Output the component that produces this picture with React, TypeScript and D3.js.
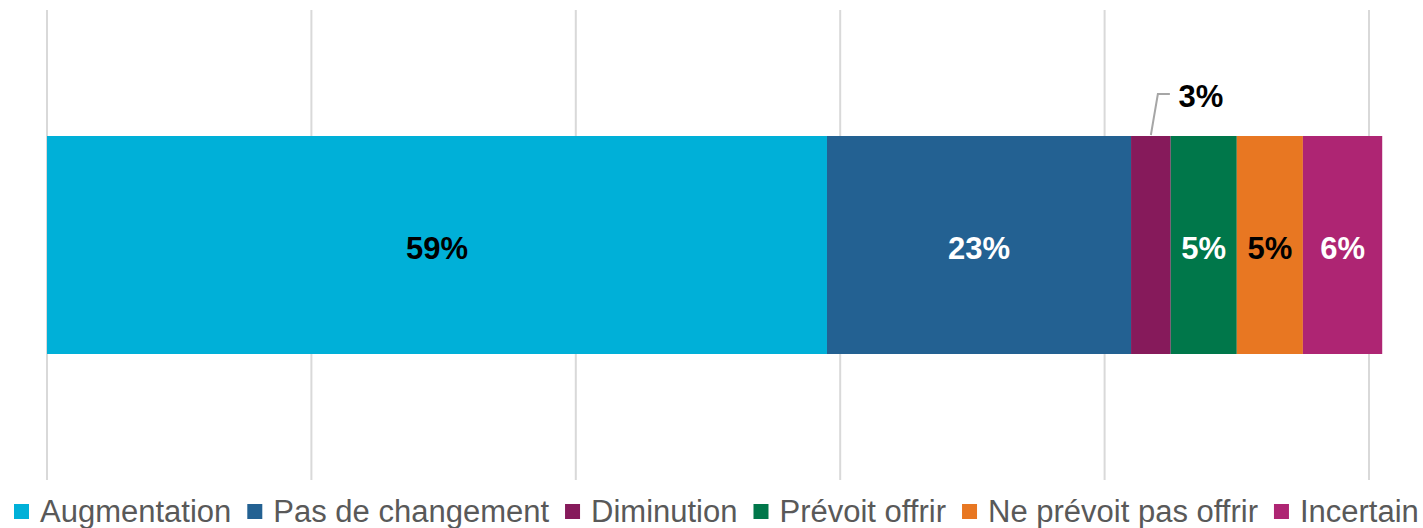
import React from "react";
import * as d3 from "d3";

const categories = ["Augmentation", "Pas de changement", "Diminution", "Prévoit offrir", "Ne prévoit pas offrir", "Incertain"];
const values = [59, 23, 3, 5, 5, 6];
const colors = ["#00B0D8", "#236192", "#861A5B", "#00774A", "#E87722", "#AE2573"];
const labelColors = ["#000000", "#ffffff", "#000000", "#ffffff", "#000000", "#ffffff"];
const ticks = [0, 20, 40, 60, 80, 100];

export default function App() {
  const W = 1423, H = 528;
  const x = d3.scaleLinear().domain([0, 100]).range([47, 1369]);
  const y0 = 136, y1 = 354;
  let cum = 0;
  const segs = values.map((v, i) => {
    const s = { start: cum, end: cum + v, v, i };
    cum += v;
    return s;
  });
  const legendFont = 31;
  const font = '"Liberation Sans", Arial, sans-serif';
  const ctx = document.createElement("canvas").getContext("2d")!;
  ctx.font = `${legendFont}px ${font}`;
  const sq = 15, gapSq = 11, gapItem = 16;
  const widths = categories.map((c) => sq + gapSq + ctx.measureText(c).width);
  const total = widths.reduce((a, b) => a + b, 0) + gapItem * (categories.length - 1);
  let lx = Math.max(14, (W - total) / 2 + 3);
  const legendItems = categories.map((c, i) => {
    const item = { c, i, x: lx };
    lx += widths[i] + gapItem;
    return item;
  });
  const labelFont = 31;
  return (
    <svg width={W} height={H} style={{ position: "absolute", left: 0, top: 0, fontFamily: font }}>
      {ticks.map((t) => (
        <line key={t} x1={x(t)} x2={x(t)} y1={10} y2={480} stroke="#D9D9D9" strokeWidth={2} />
      ))}
      {segs.map((s) => (
        <rect key={s.i} x={x(s.start)} y={y0} width={x(s.end) - x(s.start)} height={y1 - y0} fill={colors[s.i]} />
      ))}
      {segs.map((s) => {
        const cx = (x(s.start) + x(s.end)) / 2;
        return s.i === 2 ? (
          <g key={s.i}>
            <polyline points={`${cx},${y0 - 1} ${cx + 7},94 ${cx + 19},94`} fill="none" stroke="#A6A6A6" strokeWidth={2} />
            <text x={cx + 50} y={107} textAnchor="middle" fontSize={labelFont} fontWeight="bold" fill="#000">{s.v}%</text>
          </g>
        ) : (
          <text key={s.i} x={cx} y={259} textAnchor="middle" fontSize={labelFont} fontWeight="bold" fill={labelColors[s.i]}>{s.v}%</text>
        );
      })}
      {legendItems.map((it) => (
        <g key={it.i}>
          <rect x={it.x} y={504} width={sq} height={sq} fill={colors[it.i]} />
          <text x={it.x + sq + gapSq} y={522} fontSize={legendFont} fill="#595959">{it.c}</text>
        </g>
      ))}
    </svg>
  );
}
